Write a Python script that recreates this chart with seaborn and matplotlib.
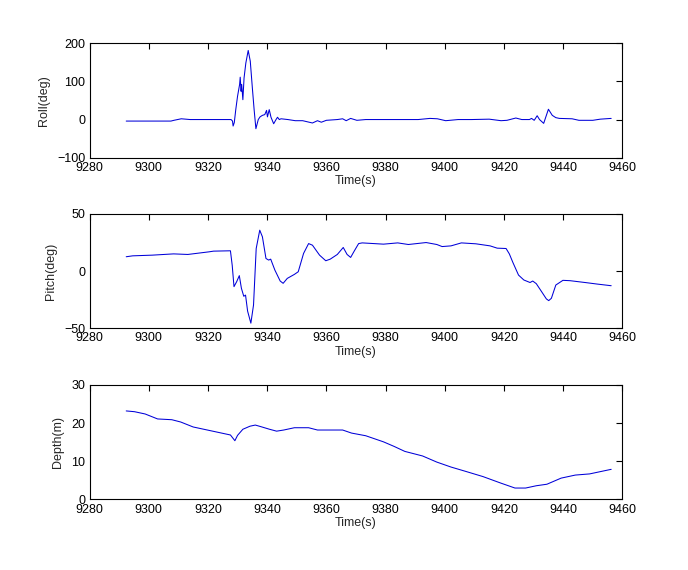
import matplotlib
matplotlib.use("Agg")
import matplotlib.pyplot as plt
import seaborn as sns
import pandas as pd

# ---- Data ----
roll_t = [9292.4, 9300.0, 9307.5, 9308.5, 9311.0, 9314.0, 9320.0, 9327.8, 9328.3, 9328.5,
          9328.9, 9329.4, 9330.0, 9330.7, 9330.9, 9331.2, 9331.4, 9331.8, 9332.2, 9332.8,
          9333.6, 9334.3, 9335.0, 9335.6, 9336.2, 9337.0, 9337.6, 9338.4, 9339.2, 9339.8,
          9340.1, 9340.7, 9341.3, 9342.2, 9343.0, 9343.5, 9344.1, 9344.7, 9347.0, 9349.5,
          9352.0, 9355.3, 9357.0, 9358.3, 9360.0, 9363.7, 9365.5, 9366.7, 9368.2, 9370.3,
          9373.3, 9385.3, 9391.0, 9395.0, 9397.5, 9400.3, 9404.5, 9409.0, 9415.0, 9419.0,
          9421.0, 9424.0, 9426.0, 9428.6, 9429.3, 9430.2, 9431.2, 9432.0, 9433.4, 9435.0,
          9436.3, 9437.5, 9438.7, 9443.0, 9445.3, 9450.0, 9452.5, 9456.2]
roll_v = [-4, -4, -4, -2, 2, 0, 0, 0, -4, -17,
          -8, 26, 61, 92, 111, 74, 92, 52, 109, 148,
          181, 153, 83, 26, -24, 0, 7, 11, 13, 24,
          7, 26, 6, -11, 0, 6, 0, 2, 0, -3,
          -3, -9, -3, -7, -2, 0, 2, -3, 3, -2,
          0, 0, 0, 3, 2, -3, 0, 0, 1, -3,
          -2, 4, 0, 0, 3, -2, 10, 0, -10, 27,
          11, 5, 3, 2, -2, -2, 1, 3]

pitch_t = [9292.4, 9294.6, 9301.2, 9308.4, 9313.2, 9320.4, 9321.9, 9327.6, 9328.2, 9328.8,
           9329.7, 9330.6, 9331.3, 9332.1, 9332.7, 9333.4, 9334.5, 9335.4, 9336.3, 9337.5,
           9338.4, 9339.6, 9340.5, 9341.2, 9342.6, 9344.4, 9345.4, 9346.8, 9349.2, 9350.5,
           9352.3, 9354.0, 9355.3, 9357.7, 9359.8, 9361.3, 9363.7, 9365.7, 9367.0, 9368.2,
           9369.4, 9370.9, 9372.1, 9379.3, 9384.1, 9387.7, 9393.7, 9397.3, 9399.1, 9402.1,
           9405.6, 9410.5, 9415.3, 9417.7, 9420.7, 9421.8, 9423.0, 9424.9, 9426.7, 9428.8,
           9429.7, 9430.9, 9432.7, 9434.3, 9435.1, 9436.0, 9437.5, 9439.9, 9442.3, 9447.7,
           9451.3, 9456.2]
pitch_v = [12.5, 13.3, 13.9, 15.0, 14.5, 16.8, 17.4, 17.7, 5.0, -13.6,
           -9.3, -4.0, -15.0, -22.0, -21.0, -35.0, -45.5, -29.6, 19.7, 35.7,
           29.9, 11.0, 9.6, 10.4, 0.9, -8.7, -10.7, -6.4, -2.9, -0.6,
           15.4, 24.0, 22.6, 13.9, 9.0, 10.4, 14.5, 20.6, 14.5, 11.9,
           17.4, 24.0, 24.6, 23.5, 24.6, 23.2, 24.9, 23.2, 21.4, 22.0,
           24.6, 23.8, 22.0, 20.0, 19.7, 15.0, 7.5, -3.5, -7.8, -10.0,
           -8.7, -11.0, -18.0, -24.3, -25.8, -23.8, -12.2, -8.1, -8.4, -10.1,
           -11.3, -12.8]

depth_t = [9292.4, 9295.2, 9298.8, 9303.0, 9307.8, 9310.8, 9315.0, 9318.0, 9322.8, 9327.6,
           9329.1, 9330.0, 9331.8, 9334.2, 9336.0, 9337.8, 9340.8, 9343.2, 9345.6, 9349.2,
           9354.0, 9357.0, 9361.3, 9365.5, 9368.5, 9373.3, 9379.3, 9382.9, 9386.5, 9392.5,
           9397.3, 9402.1, 9406.9, 9412.9, 9418.9, 9423.7, 9427.3, 9430.9, 9434.5, 9439.3,
           9444.1, 9448.9, 9456.2]
depth_v = [23.2, 23.0, 22.4, 21.1, 20.9, 20.3, 19.0, 18.5, 17.7, 16.9,
           15.4, 16.8, 18.4, 19.2, 19.5, 19.1, 18.4, 17.9, 18.2, 18.8,
           18.8, 18.2, 18.2, 18.2, 17.4, 16.7, 15.1, 13.9, 12.6, 11.4,
           9.8, 8.5, 7.4, 6.0, 4.3, 3.0, 3.0, 3.6, 4.0, 5.6,
           6.4, 6.7, 7.9]

x_ticks = [9280, 9300, 9320, 9340, 9360, 9380, 9400, 9420, 9440, 9460]
panels = [
    ("Roll(deg)", roll_t, roll_v, (-100, 200), [-100, 0, 100, 200]),
    ("Pitch(deg)", pitch_t, pitch_v, (-50, 50), [-50, 0, 50]),
    ("Depth(m)", depth_t, depth_v, (0, 30), [0, 10, 20, 30]),
]

sns.set_style("white")
plt.rcParams["font.family"] = ["Liberation Sans", "DejaVu Sans"]
plt.rcParams["font.size"] = 9

fig = plt.figure(figsize=(6.88, 5.70), dpi=100)
bottoms = [0.7233, 0.4240, 0.1237]
left, width, height = 0.1301, 0.7746, 0.2009

for (label, t, v, ylim, yticks), b in zip(panels, bottoms):
    ax = fig.add_axes([left, b, width, height])
    df = pd.DataFrame({"Time(s)": t, label: v})
    sns.lineplot(data=df, x="Time(s)", y=label, ax=ax, color="#0000d8",
                 linewidth=0.75, sort=False, estimator=None)
    ax.set_xlim(9280, 9460)
    ax.set_ylim(*ylim)
    ax.set_xticks(x_ticks)
    ax.set_yticks(yticks)
    ax.set_xlabel("Time(s)", fontsize=9, labelpad=1)
    ax.set_ylabel(label, fontsize=9, labelpad=5)
    ax.tick_params(direction="in", length=4, width=0.8, top=True, right=True,
                   labelsize=9, colors="black", pad=3)
    for s in ax.spines.values():
        s.set_visible(True)
        s.set_color("black")
        s.set_linewidth(0.8)

fig.savefig("out.png", dpi=100, facecolor="white")
